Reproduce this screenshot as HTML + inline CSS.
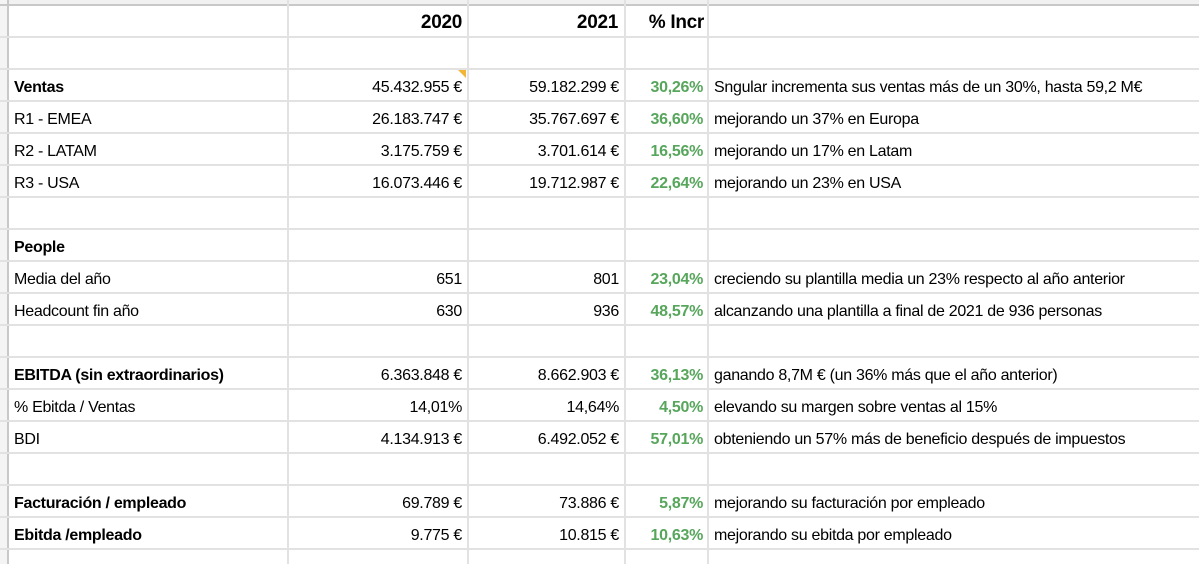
<!DOCTYPE html>
<html><head><meta charset="utf-8"><style>
body{margin:0;width:1199px;height:564px;overflow:hidden;background:#fff;font-family:"Liberation Sans",Arial,sans-serif;position:relative}
.h{position:absolute;left:0;width:1199px;height:2px;background:#e2e2e2}
.v{position:absolute;top:0;height:564px;width:2px;background:#e2e2e2}
.t{position:absolute;font-size:16px;color:#000;white-space:nowrap;line-height:32px;letter-spacing:-0.3px}
.r{text-align:right}
.b{font-weight:bold}
.g{color:#57a65c;font-weight:bold}
</style></head><body>
<div style="position:absolute;left:0;top:0;width:1199px;height:5px;background:#f1f1f1"></div>
<div style="position:absolute;left:0;top:0;width:8px;height:564px;background:#f4f4f4"></div>
<div class="h" style="top:4px;background:#c8c8c8"></div>
<div class="v" style="left:7px;background:#c8c8c8"></div>
<div class="h" style="top:36px"></div><div class="h" style="top:68px"></div><div class="h" style="top:100px"></div><div class="h" style="top:132px"></div><div class="h" style="top:164px"></div><div class="h" style="top:196px"></div><div class="h" style="top:228px"></div><div class="h" style="top:260px"></div><div class="h" style="top:292px"></div><div class="h" style="top:324px"></div><div class="h" style="top:356px"></div><div class="h" style="top:388px"></div><div class="h" style="top:420px"></div><div class="h" style="top:452px"></div><div class="h" style="top:484px"></div><div class="h" style="top:516px"></div><div class="h" style="top:548px"></div>
<div class="v" style="left:287px"></div><div class="v" style="left:467px"></div><div class="v" style="left:624px"></div><div class="v" style="left:707px"></div>
<div style="position:absolute;left:458px;top:70px;width:0;height:0;border-top:8px solid #f2b636;border-left:8px solid transparent"></div>

<div class="t r b" style="top:7px;left:290px;width:172px;font-size:19px">2020</div>
<div class="t r b" style="top:7px;left:470px;width:148px;font-size:19px">2021</div>
<div class="t r b" style="top:7px;left:627px;width:77px;font-size:19px">% Incr</div>

<div id="rows"></div>
<script>
const R=[
[69,"Ventas",1,"45.432.955 €","59.182.299 €","30,26%","Sngular incrementa sus ventas más de un 30%, hasta 59,2 M€"],
[101,"R1 - EMEA",0,"26.183.747 €","35.767.697 €","36,60%","mejorando un 37% en Europa"],
[133,"R2 - LATAM",0,"3.175.759 €","3.701.614 €","16,56%","mejorando un 17% en Latam"],
[165,"R3 - USA",0,"16.073.446 €","19.712.987 €","22,64%","mejorando un 23% en USA"],
[229,"People",1,"","","",""],
[261,"Media del año",0,"651","801","23,04%","creciendo su plantilla media un 23% respecto al año anterior"],
[293,"Headcount fin año",0,"630","936","48,57%","alcanzando una plantilla a final de 2021 de 936 personas"],
[357,"EBITDA (sin extraordinarios)",1,"6.363.848 €","8.662.903 €","36,13%","ganando 8,7M € (un 36% más que el año anterior)"],
[389,"% Ebitda / Ventas",0,"14,01%","14,64%","4,50%","elevando su margen sobre ventas al 15%"],
[421,"BDI",0,"4.134.913 €","6.492.052 €","57,01%","obteniendo un 57% más de beneficio después de impuestos"],
[485,"Facturación / empleado",1,"69.789 €","73.886 €","5,87%","mejorando su facturación por empleado"],
[517,"Ebitda /empleado",1,"9.775 €","10.815 €","10,63%","mejorando su ebitda por empleado"]];
let h="";
for(const [y0,a,b,c,d,e,f] of R){
const y=y0+3;
h+=`<div class="t${b?' b':''}" style="top:${y}px;left:14px">${a}</div>`;
h+=`<div class="t r" style="top:${y}px;left:290px;width:172px">${c}</div>`;
h+=`<div class="t r" style="top:${y}px;left:470px;width:149px">${d}</div>`;
h+=`<div class="t r g" style="top:${y}px;left:627px;width:76px">${e}</div>`;
h+=`<div class="t" style="top:${y}px;left:714px">${f}</div>`;
}
document.getElementById("rows").innerHTML=h;
</script>
</body></html>
